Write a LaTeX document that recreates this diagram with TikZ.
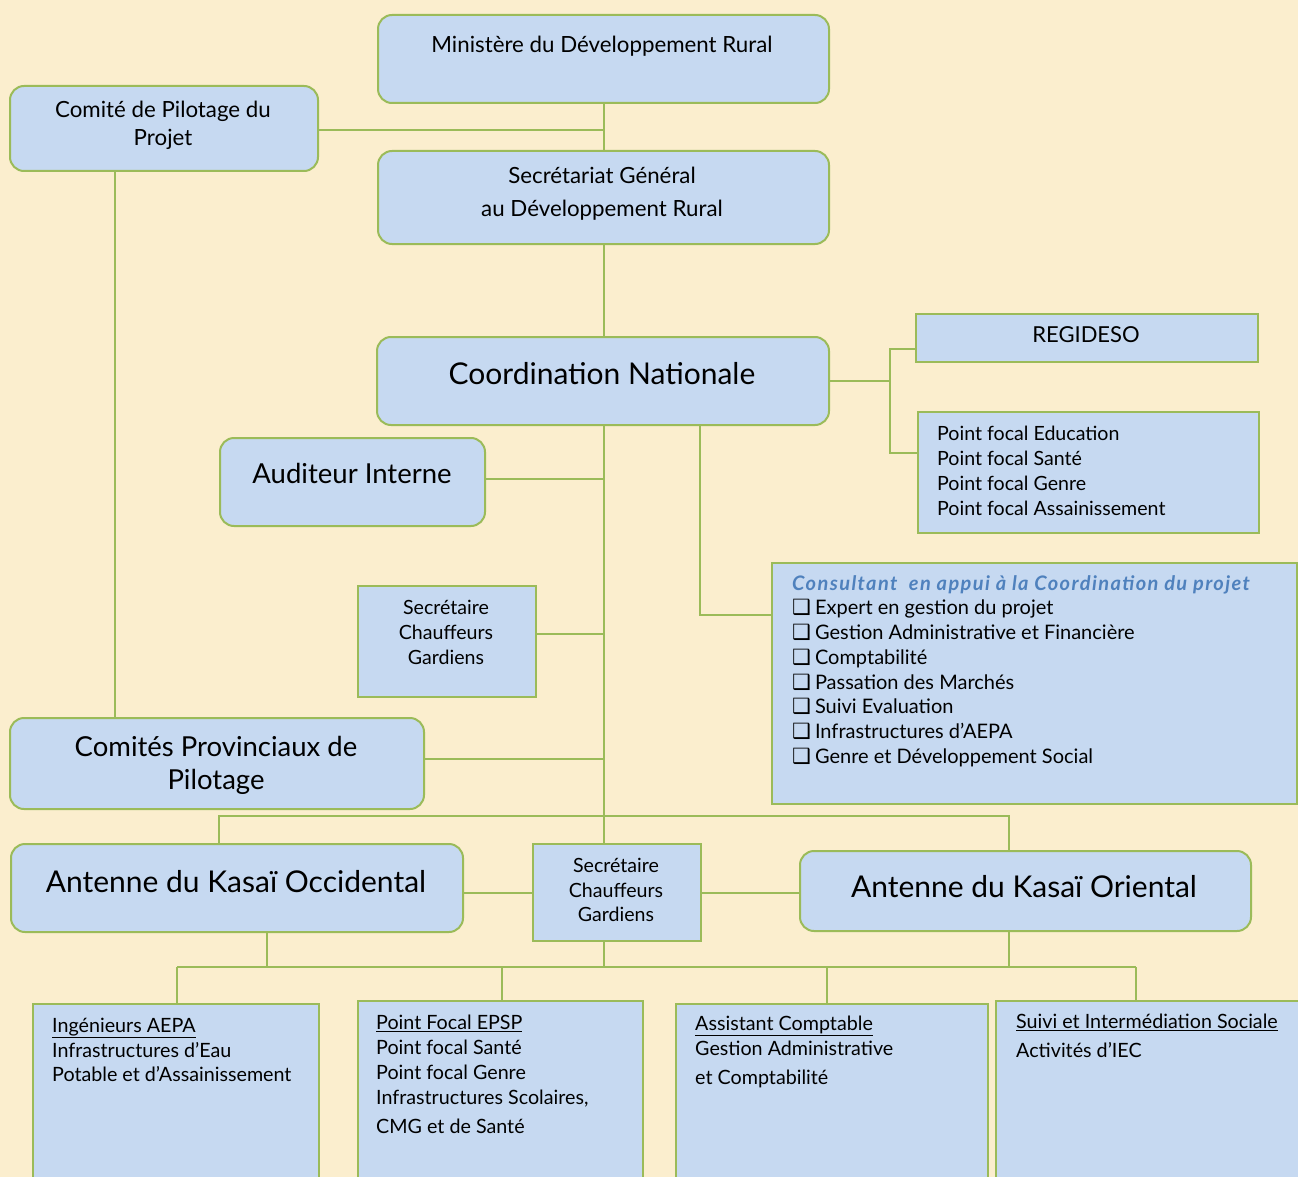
\documentclass[tikz,border=0pt]{standalone}
\usepackage{fontspec}
\setmainfont{Lato}
\newfontfamily\symfont{DejaVu Sans}
\definecolor{bg}{RGB}{251,238,206}
\definecolor{boxblue}{RGB}{198,217,241}
\definecolor{lgreen}{RGB}{155,187,89}
\definecolor{ttlblue}{RGB}{79,129,189}
\newcommand\cbx{{\symfont\fontsize{21}{21}\selectfont\char"2751}\hspace{4pt}}
\newcommand\fsz[2]{\fontsize{#1}{#2}\selectfont}
\begin{document}
\begin{tikzpicture}[x=1pt,y=-1pt,
  rbox/.style={draw=lgreen,line width=2pt,fill=boxblue,rounded corners=14pt,anchor=north west,inner sep=0pt},
  sbox/.style={draw=lgreen,line width=2pt,fill=boxblue,anchor=north west,inner sep=0pt},
  conn/.style={draw=lgreen,line width=2pt},
  txt/.style={inner sep=0pt,text=black}]
\useasboundingbox (0,0) rectangle (1298,1177);
\clip (0,0) rectangle (1298,1177);
\fill[bg] (0,0) rectangle (1298,1177);

% coordinates for connectors
\coordinate (sp) at (604,0);
\coordinate (cpv) at (115,0);
\coordinate (cj) at (700,615);
\coordinate (rj) at (890,0);
\coordinate (rj1) at (890,349);
\coordinate (rj2) at (890,453);
\coordinate (h1) at (219,816);
\coordinate (h2) at (1009,816);
\coordinate (b0) at (604,967);
\coordinate (bL) at (267,967);
\coordinate (bR) at (1009,967);
\coordinate (d1) at (177,967);
\coordinate (d2) at (502,967);
\coordinate (d3) at (827,967);
\coordinate (d4) at (1136,967);

% boxes
\node[rbox,minimum width=451,minimum height=88] (min) at (377,14) {};
\node[rbox,minimum width=308,minimum height=85] (cp) at (9,85) {};
\node[rbox,minimum width=451,minimum height=93] (sg) at (377,150) {};
\node[rbox,minimum width=452,minimum height=88] (cn) at (376,336) {};
\node[sbox,minimum width=342,minimum height=48] (reg) at (915,313) {};
\node[sbox,minimum width=341,minimum height=121] (pf) at (917,411) {};
\node[rbox,minimum width=265,minimum height=88] (aud) at (219,437) {};
\node[sbox,minimum width=178,minimum height=111] (sec1) at (357,585) {};
\node[sbox,minimum width=525,minimum height=241] (cons) at (771,562) {};
\node[rbox,minimum width=414,minimum height=91] (cprov) at (9,717) {};
\node[rbox,minimum width=452,minimum height=88] (aocc) at (10,843) {};
\node[sbox,minimum width=168,minimum height=97] (sec2) at (532,843) {};
\node[rbox,minimum width=451,minimum height=80] (aor) at (799,850) {};
\node[sbox,minimum width=286,minimum height=220] (bx1) at (32,1003) {};
\node[sbox,minimum width=285,minimum height=220] (bx2) at (357,1000) {};
\node[sbox,minimum width=312,minimum height=220] (bx3) at (675,1003) {};
\node[sbox,minimum width=320,minimum height=220] (bx4) at (995,1000) {};

% connectors
\draw[conn] (min.south -| sp) -- (sg.north -| sp);
\draw[conn] ([yshift=-2pt]cp.east) -- ([yshift=-2pt]cp.east -| sp);
\draw[conn] (cp.south -| cpv) -- (cprov.north -| cpv);
\draw[conn] (sg.south -| sp) -- (cn.north -| sp);
\draw[conn] (cn.south -| sp) -- (sec2.north -| sp);
\draw[conn] ([yshift=3pt]aud.east) -- ([yshift=3pt]aud.east -| sp);
\draw[conn] ([yshift=8pt]sec1.east) -- ([yshift=8pt]sec1.east -| sp);
\draw[conn] ([yshift=5pt]cprov.east) -- ([yshift=5pt]cprov.east -| sp);
\draw[conn] (cn.south -| cj) -- (cj) -- (cj -| cons.west);
\draw[conn] (cn.east) -- (cn.east -| rj);
\draw[conn] (rj1 -| reg.west) -- (rj1) -- (rj2) -- (rj2 -| pf.west);
\draw[conn] (aocc.north -| h1) -- (h1) -- (h2) -- (aor.north -| h2);
\draw[conn] (sec2.west) -- (sec2.west -| aocc.east);
\draw[conn] (sec2.east) -- (sec2.east -| aor.west);
\draw[conn] (sec2.south -| sp) -- (b0);
\draw[conn] (aocc.south -| bL) -- (bL);
\draw[conn] (aor.south -| bR) -- (bR);
\draw[conn] (d1) -- (d4);
\draw[conn] (d1) -- (d1 |- bx1.north);
\draw[conn] (d2) -- (d2 |- bx2.north);
\draw[conn] (d3) -- (d3 |- bx3.north);
\draw[conn] (d4) -- (d4 |- bx4.north);

% texts
\node[txt,font=\fsz{22.3}{26}] (minT) at (602,46) {Ministère du Développement Rural};
\node[txt,font=\fsz{22.3}{28},align=center] (cpT) at (163,125) {Comité de Pilotage du\\Projet};
\node[txt,font=\fsz{22.3}{33},align=center] (sgT) at (602,194) {Secrétariat Général\\au Développement Rural};
\node[txt,font=\fsz{30}{36}] (cnT) at (602,374) {Coordination Nationale};
\node[txt,font=\fsz{22}{26}] (regT) at (1086,335) {REGIDESO};
\node[txt,font=\fsz{19.6}{25},align=left,anchor=west] (pfT) at (937,471) {Point focal Education\\Point focal Santé\\Point focal Genre\\Point focal Assainissement};
\node[txt,font=\fsz{27.5}{32}] (audT) at (352,473) {Auditeur Interne};
\node[txt,font=\fsz{19.6}{25},align=center] (sec1T) at (446,632) {Secrétaire\\Chauffeurs\\Gardiens};
\node[txt,font=\fsz{20}{24.7},align=left,anchor=west] (consT) at (792,671) {{\color{ttlblue}\bfseries\itshape\addfontfeature{LetterSpace=7}Consultant\ \ en appui à la Coordination du projet}\\
\cbx Expert en gestion du projet\\
\cbx Gestion Administrative et Financière\\
\cbx Comptabilité\\
\cbx Passation des Marchés\\
\cbx Suivi Evaluation\\
\cbx Infrastructures d’AEPA\\
\cbx Genre et Développement Social};
\node[txt,font=\fsz{27.5}{33},align=center] (cprovT) at (216,765) {Comités Provinciaux de\\Pilotage};
\node[txt,font=\fsz{30}{36}] (aoccT) at (236,882) {Antenne du Kasaï Occidental};
\node[txt,font=\fsz{19.6}{24.5},align=center] (sec2T) at (616,890) {Secrétaire\\Chauffeurs\\Gardiens};
\node[txt,font=\fsz{30}{36}] (aorT) at (1024,887) {Antenne du Kasaï Oriental};
\node[txt,font=\fsz{19.7}{24.5},align=left,anchor=west] (bx1T) at (52,1050) {\underline{Ingénieurs AEPA}\\Infrastructures d’Eau\\Potable et d’Assainissement};
\node[txt,font=\fsz{19.7}{25},align=left,anchor=west] (bx2T) at (376,1074) {\underline{Point Focal EPSP}\\Point focal Santé\\Point focal Genre\\Infrastructures Scolaires,\\[4pt]CMG et de Santé};
\node[txt,font=\fsz{19.7}{25},align=left,anchor=west] (bx3T) at (695,1052) {\underline{Assistant Comptable}\\Gestion Administrative\\[4pt]et Comptabilité};
\node[txt,font=\fsz{19.7}{29},align=left,anchor=west] (bx4T) at (1016,1036) {\underline{Suivi et Intermédiation Sociale}\\Activités d’IEC};
\end{tikzpicture}
\end{document}
